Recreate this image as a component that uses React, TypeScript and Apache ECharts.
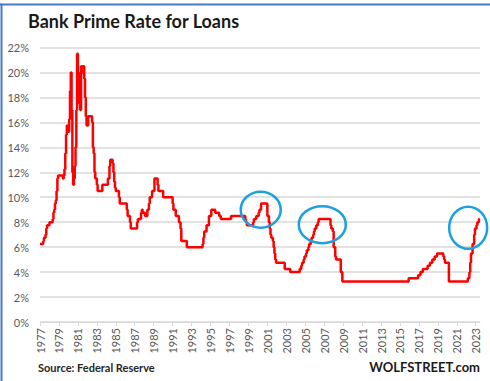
import React, { useEffect, useRef } from "react";
import * as echarts from "echarts";

// Prime rate change points: [YYYY-MM, rate %]
const changeDates: string[] = [
  "1977-01","1977-05","1977-06","1977-08","1977-09","1977-10",
  "1978-01","1978-05","1978-06","1978-07","1978-08","1978-09","1978-10","1978-11","1978-12",
  "1979-06","1979-07","1979-08","1979-09","1979-10","1979-11","1979-12",
  "1980-02","1980-03","1980-04","1980-05","1980-06","1980-07","1980-08","1980-09","1980-10","1980-11","1980-12",
  "1981-01","1981-02","1981-03","1981-04","1981-05","1981-06","1981-07","1981-09","1981-10","1981-11","1981-12",
  "1982-02","1982-07","1982-08","1982-09","1982-10","1982-11",
  "1983-01","1983-02","1983-08",
  "1984-03","1984-05","1984-06","1984-09","1984-10","1984-11","1984-12",
  "1985-01","1985-05","1985-06",
  "1986-03","1986-04","1986-07","1986-08",
  "1987-04","1987-05","1987-09","1987-10","1987-11",
  "1988-02","1988-05","1988-07","1988-08","1988-11",
  "1989-02","1989-06","1989-07",
  "1990-01",
  "1991-01","1991-02","1991-05","1991-09","1991-11","1991-12",
  "1992-07",
  "1994-03","1994-04","1994-05","1994-08","1994-11",
  "1995-02","1995-07","1995-12",
  "1996-02",
  "1997-03",
  "1998-09","1998-10","1998-11",
  "1999-07","1999-08","1999-11",
  "2000-02","2000-03","2000-05",
  "2001-01","2001-03","2001-04","2001-05","2001-06","2001-08","2001-09","2001-10","2001-11","2001-12",
  "2002-11",
  "2003-06",
  "2004-06","2004-08","2004-09","2004-11","2004-12",
  "2005-02","2005-03","2005-05","2005-06","2005-08","2005-09","2005-11","2005-12",
  "2006-01","2006-03","2006-05","2006-06",
  "2007-09","2007-10","2007-12",
  "2008-01","2008-03","2008-04","2008-10","2008-12",
  "2015-12",
  "2016-12",
  "2017-03","2017-06","2017-12",
  "2018-03","2018-06","2018-09","2018-12",
  "2019-08","2019-09","2019-10",
  "2020-03",
  "2022-03","2022-05","2022-06","2022-07","2022-09","2022-11","2022-12",
  "2023-02","2023-03","2023-05","2023-06",
];

const primeRates: number[] = [
  6.25, 6.5, 6.75, 7.0, 7.5, 7.75,
  8.0, 8.25, 8.75, 9.0, 9.5, 9.75, 10.5, 11.5, 11.75,
  11.5, 11.75, 12.25, 13.5, 15.0, 15.75, 15.25,
  16.25, 18.5, 20.0, 17.0, 12.0, 11.0, 11.5, 12.5, 14.0, 17.0, 21.5,
  20.0, 19.5, 17.5, 17.0, 20.5, 20.0, 20.5, 19.5, 18.0, 16.5, 15.75,
  16.5, 16.0, 14.0, 13.5, 12.0, 11.5,
  11.0, 10.5, 11.0,
  11.5, 12.5, 13.0, 12.75, 12.0, 11.25, 10.75,
  10.5, 10.0, 9.5,
  9.0, 8.5, 8.0, 7.5,
  8.0, 8.25, 8.75, 9.0, 8.75,
  8.5, 9.0, 9.5, 10.0, 10.5,
  11.5, 11.0, 10.5,
  10.0,
  9.5, 9.0, 8.5, 8.0, 7.5, 6.5,
  6.0,
  6.25, 6.75, 7.25, 7.75, 8.5,
  9.0, 8.75, 8.5,
  8.25,
  8.5,
  8.25, 8.0, 7.75,
  8.0, 8.25, 8.5,
  8.75, 9.0, 9.5,
  8.5, 8.0, 7.5, 7.0, 6.75, 6.5, 6.0, 5.5, 5.0, 4.75,
  4.25,
  4.0,
  4.25, 4.5, 4.75, 5.0, 5.25,
  5.5, 5.75, 6.0, 6.25, 6.5, 6.75, 7.0, 7.25,
  7.5, 7.75, 8.0, 8.25,
  7.75, 7.5, 7.25,
  6.0, 5.25, 5.0, 4.0, 3.25,
  3.5,
  3.75,
  4.0, 4.25, 4.5,
  4.75, 5.0, 5.25, 5.5,
  5.25, 5.0, 4.75,
  3.25,
  3.5, 4.0, 4.75, 5.5, 6.25, 7.0, 7.5,
  7.75, 8.0, 8.25, 8.25,
];

const yearLabels: number[] = [
  1977, 1979, 1981, 1983, 1985, 1987, 1989, 1991, 1993, 1995, 1997, 1999,
  2001, 2003, 2005, 2007, 2009, 2011, 2013, 2015, 2017, 2019, 2021, 2023,
];

const yTicks: number[] = [0, 2, 4, 6, 8, 10, 12, 14, 16, 18, 20, 22];

// Highlight ellipses: [year, rate] centres, radii in px
const highlightCentres: [number, number][] = [
  [2000.3, 9.0],
  [2006.8, 7.8],
  [2022.2, 7.55],
];
const highlightRadii: [number, number][] = [
  [20, 18],
  [23.5, 18.5],
  [19, 21],
];

const toYear = (s: string) => {
  const [y, m] = s.split("-").map(Number);
  return y + (m - 1) / 12;
};

export default function App() {
  const ref = useRef<HTMLDivElement>(null);
  useEffect(() => {
    if (!ref.current) return;
    const chart = echarts.init(ref.current, undefined, { renderer: "svg" });
    const data = changeDates.map((d, i) => [toYear(d), primeRates[i]]);
    const font = "Lato, 'Open Sans', sans-serif";
    chart.setOption({
      animation: false,
      backgroundColor: "#ffffff",
      grid: {
        left: 40,
        right: 10,
        top: 47.5,
        bottom: 59,
        containLabel: false,
        outerBoundsMode: "none",
      },
      xAxis: {
        type: "value",
        min: 1977,
        max: 2023.45,
        interval: 2,
        axisLine: { show: true, lineStyle: { color: "#d9d9d9", width: 1 } },
        axisTick: {
          show: true,
          length: 4,
          lineStyle: { color: "#d9d9d9" },
          customValues: yearLabels,
        },
        axisLabel: {
          rotate: 90,
          margin: 6,
          color: "#595959",
          fontFamily: font,
          fontSize: 11,
          customValues: yearLabels,
          formatter: (v: number) => String(Math.round(v)),
        },
        splitLine: { show: false },
      },
      yAxis: {
        type: "value",
        min: 0,
        max: 22,
        interval: 2,
        axisLine: { show: false },
        axisTick: { show: false },
        axisLabel: {
          color: "#595959",
          fontFamily: font,
          fontSize: 11,
          margin: 11,
          formatter: (v: number) => (yTicks.includes(v) ? v + "%" : ""),
        },
        splitLine: { show: true, lineStyle: { color: "#d9d9d9", width: 1.5 } },
      },
      series: [
        {
          type: "line",
          data,
          step: "end",
          showSymbol: false,
          lineStyle: { color: "#ff0000", width: 2.5 },
          z: 3,
        },
      ],
    });

    const ellipses = highlightCentres.map((c, i) => {
      const p = chart.convertToPixel({ gridIndex: 0 }, c) as number[];
      return {
        type: "ellipse",
        shape: { cx: p[0], cy: p[1], rx: highlightRadii[i][0], ry: highlightRadii[i][1] },
        style: { fill: "none", stroke: "#1ba1e2", lineWidth: 2.5 },
        z: 10,
      };
    });

    chart.setOption({
      graphic: [
        {
          type: "text",
          left: 28,
          top: 12,
          style: {
            text: "Bank Prime Rate for Loans",
            fontFamily: font,
            fontWeight: "bold",
            fontSize: 18,
            fill: "#1a1a1a",
          },
        },
        {
          type: "text",
          left: 38,
          top: 362,
          style: {
            text: "Source: Federal Reserve",
            fontFamily: font,
            fontWeight: "bold",
            fontSize: 11,
            fill: "#262626",
          },
        },
        {
          type: "text",
          right: 10,
          top: 360,
          style: {
            text: "WOLFSTREET.com",
            fontFamily: font,
            fontWeight: "bold",
            fontSize: 13,
            fill: "#1a1a1a",
          },
        },
        {
          type: "rect",
          shape: { x: 0, y: 3.5, width: 490, height: 2 },
          style: { fill: "#4a78c8" },
          z: 20,
        },
        {
          type: "rect",
          shape: { x: 0.5, y: 3.5, width: 2, height: 378 },
          style: { fill: "#4a78c8" },
          z: 20,
        },
        ...ellipses,
      ],
    });
    return () => chart.dispose();
  }, []);
  return (
    <div
      ref={ref}
      style={{ position: "fixed", left: 0, top: 0, width: 490, height: 381 }}
    />
  );
}
